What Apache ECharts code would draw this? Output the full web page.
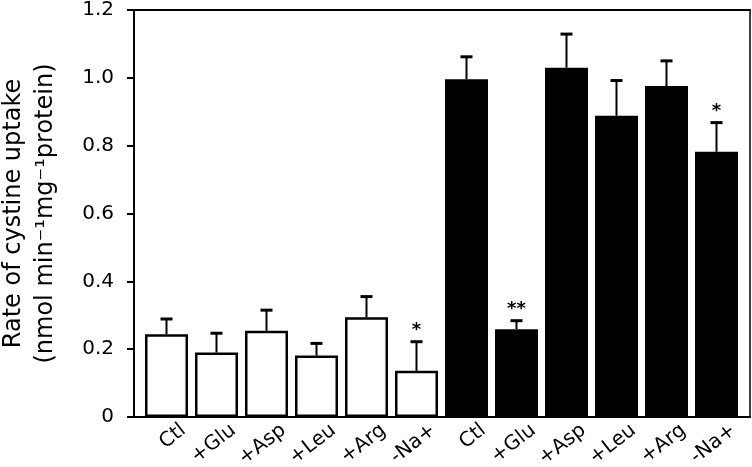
<!DOCTYPE html>
<html>
<head>
<meta charset="utf-8">
<script src="https://cdn.jsdelivr.net/npm/echarts@6/dist/echarts.min.js"></script>
<style>
html,body{margin:0;padding:0;background:#fff;}
#chart{width:752px;height:467px;}
</style>
</head>
<body>
<div id="chart"></div>
<script>
const categories = ['Ctl', '+Glu', '+Asp', '+Leu', '+Arg', '-Na+', 'Ctl', '+Glu', '+Asp', '+Leu', '+Arg', '-Na+'];
const means = [0.244, 0.190, 0.254, 0.181, 0.294, 0.136, 0.996, 0.259, 1.030, 0.888, 0.976, 0.782];
const sems = [0.045, 0.057, 0.061, 0.036, 0.061, 0.086, 0.066, 0.025, 0.099, 0.104, 0.074, 0.086];
const fills = ['#ffffff', '#ffffff', '#ffffff', '#ffffff', '#ffffff', '#ffffff', '#000000', '#000000', '#000000', '#000000', '#000000', '#000000'];
const marks = ['', '', '', '', '', '*', '', '**', '', '', '', '*'];
const yTickLabels = ['0', '0.2', '0.4', '0.6', '0.8', '1.0', '1.2'];
const yTitle = 'Rate of cystine uptake\n(nmol min\u207B\u00B9mg\u207B\u00B9protein)';

const FONT = 'DejaVu Sans';
const LABEL_SHIFT = 0.34; // rotated labels sit slightly right of bar centres
const chart = echarts.init(document.getElementById('chart'), null, {renderer: 'canvas'});

const barData = means.map((v, i) => ({
  value: [i, v],
  itemStyle: {color: fills[i], borderColor: '#000', borderWidth: 2.5}
}));
const errData = means.map((v, i) => [i, v, v + sems[i]]);

const option = {
  backgroundColor: '#fff',
  animation: false,
  grid: {left: 134, right: 2, top: 10, bottom: 50, containLabel: false, outerBoundsMode: 'none'},
  xAxis: [{
    type: 'value',
    min: -0.65,
    max: 11.67,
    position: 'bottom',
    axisLine: {show: true, onZero: false, lineStyle: {color: '#000', width: 2}},
    axisTick: {show: false},
    splitLine: {show: false},
    axisLabel: {
      customValues: categories.map((c, i) => i + LABEL_SHIFT),
      formatter: v => categories[Math.round(v - LABEL_SHIFT)] || '',
      rotate: 38,
      margin: 11,
      color: '#000',
      fontFamily: FONT,
      fontSize: 20
    }
  }, {
    type: 'value',
    min: -0.65,
    max: 11.67,
    position: 'top',
    axisLine: {show: true, onZero: false, lineStyle: {color: '#000', width: 2}},
    axisTick: {show: false},
    axisLabel: {show: false},
    splitLine: {show: false}
  }],
  yAxis: [{
    type: 'value',
    min: 0,
    max: 1.2,
    interval: 0.2,
    position: 'left',
    axisLine: {show: true, onZero: false, lineStyle: {color: '#000', width: 2}},
    axisTick: {show: true, inside: false, length: 7, lineStyle: {color: '#000', width: 2}},
    splitLine: {show: false},
    axisLabel: {
      formatter: v => yTickLabels[Math.round(v / 0.2)],
      margin: 20,
      color: '#000',
      fontFamily: FONT,
      fontSize: 20
    },
    name: yTitle,
    nameLocation: 'middle',
    nameRotate: 90,
    nameGap: 72,
    nameTextStyle: {color: '#000', fontFamily: FONT, fontSize: 24, lineHeight: 32}
  }, {
    type: 'value',
    min: 0,
    max: 1.2,
    interval: 0.2,
    position: 'right',
    axisLine: {show: true, onZero: false, lineStyle: {color: '#000', width: 1.5}},
    axisTick: {show: false},
    axisLabel: {show: false},
    splitLine: {show: false}
  }],
  series: [{
    type: 'bar',
    xAxisIndex: 0,
    yAxisIndex: 0,
    barWidth: 43,
    data: barData,
    z: 2
  }, {
    type: 'custom',
    xAxisIndex: 0,
    yAxisIndex: 0,
    z: 3,
    data: errData,
    renderItem: function (params, api) {
      const x = api.value(0);
      const base = api.coord([x, api.value(1)]);
      const top = api.coord([x, api.value(2)]);
      const mk = marks[params.dataIndex];
      const children = [{
        type: 'line',
        shape: {x1: base[0], y1: base[1], x2: top[0], y2: top[1]},
        style: {stroke: '#000', lineWidth: 2}
      }, {
        type: 'line',
        shape: {x1: top[0] - 6, y1: top[1], x2: top[0] + 6, y2: top[1]},
        style: {stroke: '#000', lineWidth: 3}
      }];
      if (mk) {
        children.push({
          type: 'text',
          style: {
            text: mk,
            x: top[0],
            y: top[1] - 2,
            align: 'center',
            verticalAlign: 'bottom',
            fill: '#000',
            font: 'bold 18px "' + FONT + '"'
          }
        });
      }
      return {type: 'group', children: children};
    }
  }]
};
chart.setOption(option);
</script>
</body>
</html>
